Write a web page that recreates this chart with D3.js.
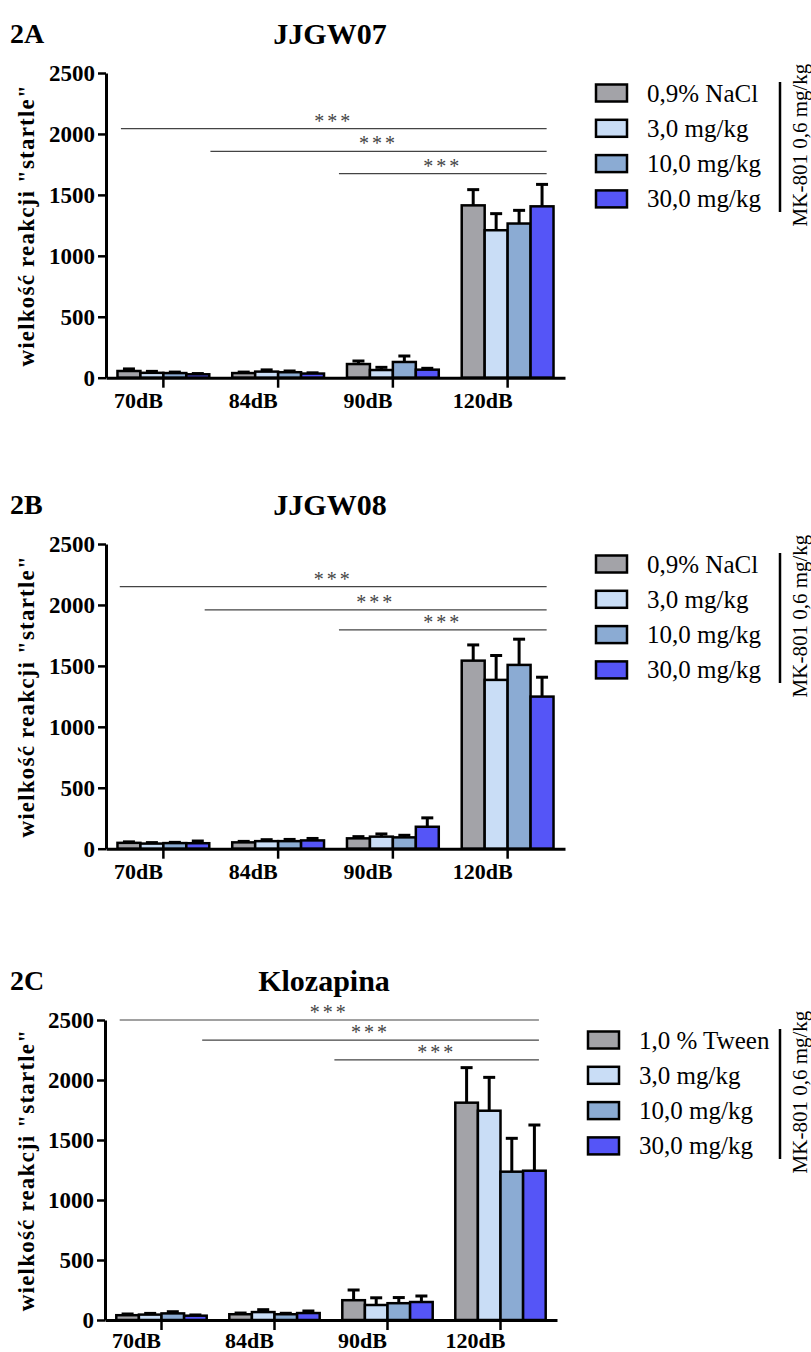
<!DOCTYPE html>
<html>
<head>
<meta charset="utf-8">
<script src="https://cdn.jsdelivr.net/npm/d3@7"></script>
<style>
  body { margin: 0; background: #fff; }
  svg text { font-family: "Liberation Serif", "Times New Roman", Tinos, serif; }
</style>
</head>
<body>
<svg id="chart" width="811" height="1352"></svg>
<script>
// categories and tick labels
const levels = ["70dB", "84dB", "90dB", "120dB"];
const yTicks = [0, 500, 1000, 1500, 2000, 2500];
const legendMk = ["0,9% NaCl", "3,0 mg/kg", "10,0 mg/kg", "30,0 mg/kg"];
const legendKlo = ["1,0 % Tween", "3,0 mg/kg", "10,0 mg/kg", "30,0 mg/kg"];
const sideLabel = "MK-801 0,6 mg/kg";
const colors = ["#a3a3a8", "#c9ddf6", "#8babd3", "#5555f7"];
const serif = '"Liberation Serif", "Times New Roman", Tinos, serif';

// 2A JJGW07 - one array per group, values for 70/84/90/120 dB
const a0 = [55, 38, 112, 1414], a0e = [17, 8, 25, 129];
const a1 = [40, 50, 63, 1210], a1e = [12, 14, 22, 136];
const a2 = [38, 45, 129, 1265], a2e = [8, 10, 49, 108];
const a3 = [28, 34, 66, 1406], a3e = [6, 6, 11, 180];

// 2B JJGW08
const b0 = [48, 52, 85, 1543], b0e = [8, 8, 14, 129];
const b1 = [42, 62, 99, 1385], b1e = [8, 12, 22, 200];
const b2 = [46, 62, 93, 1508], b2e = [6, 14, 17, 211];
const b3 = [45, 68, 180, 1248], b3e = [18, 16, 73, 159];

// 2C Klozapina
const c0 = [40, 48, 165, 1811], c0e = [10, 10, 85, 292];
const c1 = [45, 66, 125, 1744], c1e = [10, 20, 60, 278];
const c2 = [55, 48, 140, 1236], c2e = [14, 8, 47, 278];
const c3 = [36, 58, 150, 1244], c3e = [6, 17, 50, 381];

// significance lines: start (in category units, 0 = 70dB), end, height
const sigA = [-0.37, 0.41, 1.53], sigAy = [2043, 1857, 1674];
const sigB = [-0.38, 0.36, 1.53], sigBy = [2151, 1960, 1795];
const sigC = [-0.37, 0.36, 1.53], sigCy = [2500, 2333, 2167];
const sigEnd = 3.34;

const svg = d3.select("#chart");

function panel(opt) {
  const g = svg.append("g");
  const x = d3.scaleBand().domain(levels).range([opt.left, opt.right])
    .paddingInner(0.2).paddingOuter(0.1);
  const xs = d3.scaleBand().domain(d3.range(4)).range([0, x.bandwidth()]);
  const y = d3.scaleLinear().domain([0, 2500]).range([opt.zero, opt.top]);
  // category-units scale for annotation lines
  const xc = d3.scaleLinear().domain([0, 1])
    .range([x(levels[0]) + x.bandwidth() / 2, x(levels[1]) + x.bandwidth() / 2]);

  // panel letter + title
  g.append("text").attr("x", 10).attr("y", opt.top - 30)
    .style("font-family", serif).style("font-size", "28px").style("font-weight", "bold")
    .text(opt.letter);
  g.append("text").attr("x", opt.titleX).attr("y", opt.top - 29)
    .attr("text-anchor", "middle")
    .style("font-family", serif).style("font-size", "30px").style("font-weight", "bold")
    .text(opt.title);

  // bars
  opt.series.forEach((s, i) => {
    const sg = g.append("g");
    // error bars (upper only)
    sg.selectAll("line.err").data(levels).enter().append("line")
      .attr("x1", d => x(d) + xs(i) + xs.bandwidth() / 2)
      .attr("x2", d => x(d) + xs(i) + xs.bandwidth() / 2)
      .attr("y1", (d, j) => y(s.v[j]))
      .attr("y2", (d, j) => y(s.v[j] + s.e[j]))
      .attr("stroke", "#000").attr("stroke-width", 3);
    sg.selectAll("line.cap").data(levels).enter().append("line")
      .attr("x1", d => x(d) + xs(i) + xs.bandwidth() / 2 - 6)
      .attr("x2", d => x(d) + xs(i) + xs.bandwidth() / 2 + 6)
      .attr("y1", (d, j) => y(s.v[j] + s.e[j]))
      .attr("y2", (d, j) => y(s.v[j] + s.e[j]))
      .attr("stroke", "#000").attr("stroke-width", 3);
    sg.selectAll("rect").data(levels).enter().append("rect")
      .attr("x", d => x(d) + xs(i))
      .attr("y", (d, j) => y(s.v[j]))
      .attr("width", xs.bandwidth())
      .attr("height", (d, j) => y(0) - y(s.v[j]))
      .attr("fill", colors[i]).attr("stroke", "#000").attr("stroke-width", 2.5);
  });

  // y axis
  const ya = g.append("g").attr("transform", `translate(${opt.left},0)`)
    .call(d3.axisLeft(y).tickValues(yTicks).tickFormat(d3.format("d"))
      .tickSize(8).tickSizeOuter(0).tickPadding(3));
  ya.select(".domain").attr("stroke-width", 3);
  ya.selectAll(".tick line").attr("stroke-width", 2.5);
  ya.selectAll("text").attr("fill", "#000")
    .style("font-family", serif).style("font-size", "23px").style("font-weight", "bold");

  // x axis
  const xa = g.append("g").attr("transform", `translate(0,${opt.zero})`)
    .call(d3.axisBottom(x).tickSize(10).tickSizeOuter(0).tickPadding(opt.xPad));
  xa.select(".domain").attr("stroke-width", 3);
  xa.selectAll(".tick line").attr("stroke-width", 2.5);
  xa.selectAll("text").attr("fill", "#000").attr("dx", -25)
    .style("font-family", serif).style("font-size", "22px").style("font-weight", "bold");

  // y title
  g.append("text")
    .attr("transform", `translate(34,${(opt.top + opt.zero) / 2}) rotate(-90)`)
    .attr("text-anchor", "middle")
    .style("font-family", serif).style("font-size", "23px").style("font-weight", "bold")
    .style("letter-spacing", "1.2px")
    .text('wielkość reakcji "startle"');

  // significance lines
  opt.sig.forEach((s, k) => {
    const yy = y(opt.sigY[k]);
    g.append("line").attr("x1", xc(s)).attr("x2", xc(sigEnd))
      .attr("y1", yy).attr("y2", yy)
      .attr("stroke", "#444").attr("stroke-width", 1.2);
    g.append("text").attr("x", xc((s + sigEnd) / 2)).attr("y", yy - 1)
      .attr("text-anchor", "middle").attr("fill", "#444")
      .style("font-family", serif).style("font-size", "20px").style("letter-spacing", "3px")
      .text("***");
  });

  // legend
  const lg = g.append("g");
  opt.legend.forEach((name, i) => {
    const cy = opt.top + 20 + i * 35.3;
    lg.append("rect").attr("x", opt.legX).attr("y", cy - 8.5).attr("width", 31).attr("height", 17)
      .attr("fill", colors[i]).attr("stroke", "#000").attr("stroke-width", 2.5);
    lg.append("text").attr("x", opt.legX + 51).attr("y", cy + 8.5)
      .style("font-family", serif).style("font-size", "25px")
      .text(name);
  });
  lg.append("line").attr("x1", 780).attr("x2", 780)
    .attr("y1", opt.top + 9).attr("y2", opt.top + 139)
    .attr("stroke", "#000").attr("stroke-width", 2.5);
  lg.append("text")
    .attr("transform", `translate(807,${opt.top + 72}) rotate(-90)`)
    .attr("text-anchor", "middle")
    .style("font-family", serif).style("font-size", "21px")
    .text(sideLabel);
}

panel({
  letter: "2A", title: "JJGW07", titleX: 330,
  top: 73, zero: 377.7, left: 106, right: 565, legX: 596, xPad: 5,
  series: [{v: a0, e: a0e}, {v: a1, e: a1e}, {v: a2, e: a2e}, {v: a3, e: a3e}],
  sig: sigA, sigY: sigAy, legend: legendMk
});
panel({
  letter: "2B", title: "JJGW08", titleX: 330,
  top: 544, zero: 848.7, left: 106, right: 565, legX: 596, xPad: 5,
  series: [{v: b0, e: b0e}, {v: b1, e: b1e}, {v: b2, e: b2e}, {v: b3, e: b3e}],
  sig: sigB, sigY: sigBy, legend: legendMk
});
panel({
  letter: "2C", title: "Klozapina", titleX: 324,
  top: 1020, zero: 1320, left: 105, right: 557, legX: 588, xPad: 2,
  series: [{v: c0, e: c0e}, {v: c1, e: c1e}, {v: c2, e: c2e}, {v: c3, e: c3e}],
  sig: sigC, sigY: sigCy, legend: legendKlo
});
</script>
</body>
</html>
